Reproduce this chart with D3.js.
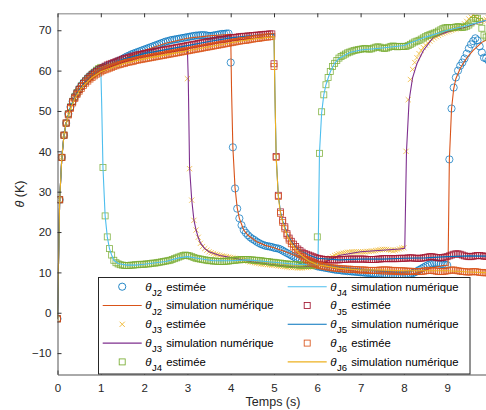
<!DOCTYPE html>
<html><head><meta charset="utf-8">
<script src="https://cdn.jsdelivr.net/npm/d3@7"></script>
<style>body{margin:0;background:#fff}svg{display:block;font-family:"Liberation Sans",Arial,Helvetica,sans-serif}</style>
</head><body><svg id="c" width="486" height="410"></svg>
<script>
// ---- data (time grid of the estimates: 0, 0.05, ... 9.95 s) ----
const xTicks = [0,1,2,3,4,5,6,7,8,9];
const yTicks = [-10,0,10,20,30,40,50,60,70];

const J2est = [
-1.5,28,38.5,44,47,49.3,51,52.4,53.6,54.6,55.5,56.3,57,57.6,58.2,58.7,59.2,59.6,60,60.3,
60.5,60.8,61,61.2,61.4,61.6,61.8,62.1,62.4,62.6,62.9,63.2,63.5,63.7,64,64.2,64.4,64.6,64.8,65,
65.2,65.4,65.6,65.8,66,66.2,66.4,66.6,66.8,67,67.2,67.3,67.5,67.6,67.7,67.8,67.9,68,68.1,68.2,
68.3,68.4,68.5,68.6,68.7,68.7,68.8,68.8,68.8,68.7,68.6,68.6,68.7,68.8,68.9,69,69.1,69.1,69.2,69.2,
62,41,30.8,25.8,23.4,21.7,20.5,19.8,19.2,18.7,18.3,18,17.6,17.3,17,16.8,16.6,16.5,16.4,16.3,
16.1,16,15.9,15.7,15.4,15.1,14.8,14.5,14.2,13.9,13.6,13.3,13.1,12.9,12.7,12.5,12.3,12.1,11.9,11.7,
11.5,11.4,11.3,11.2,11.1,11,10.9,10.8,10.7,10.6,10.6,10.5,10.4,10.4,10.3,10.3,10.2,10.2,10.1,10.1,
10,10,9.9,9.9,9.8,9.8,9.7,9.7,9.6,9.6,9.5,9.5,9.4,9.4,9.4,9.3,9.3,9.3,9.3,9.3,
9.3,9.4,9.5,9.6,9.8,10,10.3,10.6,10.9,11.2,11.5,11.8,12,12.2,12.3,12.3,12.2,12.1,12,11.9,
11.8,38,50.6,55.8,58.3,60,61.2,62,63,64.2,65.5,66.5,67.3,68,67.5,66,64.5,63.2,63,62.5];

const J3est = [
-1.5,28,38.5,44,47,49.2,50.8,52.2,53.3,54.3,55.1,55.8,56.5,57.1,57.6,58.1,58.6,59,59.4,59.7,
60,60.3,60.5,60.8,61,61.2,61.4,61.6,61.8,62,62.2,62.4,62.5,62.7,62.8,63,63.1,63.3,63.4,63.5,
63.6,63.7,63.8,63.9,64,64.1,64.2,64.3,64.4,64.5,64.6,64.7,64.7,64.8,64.9,65,65,65.1,65.2,65.2,
58,35.7,27.9,22.9,20.5,18.7,17.2,16.4,15.9,15.5,15.1,14.9,14.7,14.5,14.4,14.2,14.1,14,13.9,13.8,
13.7,13.6,13.5,13.4,13.3,13.2,13,12.9,12.8,12.6,12.5,12.4,12.3,12.2,12.1,12,12,11.9,11.9,11.8,
11.8,11.7,11.6,11.5,11.5,11.4,11.3,11.3,11.2,11.2,11.2,11.1,11.1,11.1,11.2,11.2,11.3,11.3,11.4,11.5,
11.6,11.8,12.1,12.4,12.8,13.2,13.6,13.9,14.2,14.4,14.6,14.7,14.8,14.9,15,15,15.1,15.1,15.1,15.1,
15.1,15.1,15.1,15.2,15.2,15.3,15.3,15.4,15.5,15.6,15.7,15.7,15.7,15.6,15.5,15.4,15.5,15.6,15.8,16,
16.1,40,52.8,57.8,60.3,62,63.2,64.2,65,65.7,66.3,66.8,67.3,67.7,68.1,68.4,68.7,69,69.2,69.4,
69.6,69.8,70,70.2,70.3,70.4,70.6,71,71.6,72.2,72.8,73.3,73.7,73.5,73,72.5,72.2,72.4,72.7,73];

const J4est = [
-1.5,28,38.5,44,47,49.3,51,52.4,53.5,54.5,55.4,56.2,56.9,57.5,58.1,58.6,59.1,59.6,60.1,60.5,
60.8,36,24,18.8,15.9,14.3,13,12.4,12.1,11.9,11.8,11.7,11.7,11.7,11.8,11.8,11.9,11.9,12,12,
12,12.1,12.1,12.2,12.3,12.3,12.4,12.5,12.6,12.7,12.8,12.9,13,13.2,13.4,13.6,13.8,14,14.2,14.3,
14.2,14.1,13.9,13.7,13.5,13.4,13.3,13.2,13.1,13,12.9,12.9,12.8,12.8,12.7,12.7,12.7,12.7,12.8,12.8,
12.9,13,13,13.1,13.1,13.2,13.2,13.2,13.2,13.1,13.1,13,13,12.9,12.9,12.8,12.7,12.7,12.6,12.5,
12.5,12.4,12.3,12.3,12.2,12.1,12.1,12,12,11.9,11.9,11.9,11.8,11.8,11.8,11.8,11.8,11.8,11.8,11.9,
18.8,39.5,49.8,54,56.5,58.3,59.8,61,61.8,62.5,63.1,63.5,63.8,64.1,64.4,64.6,64.8,65,65.1,65.2,
65.3,65.4,65.5,65.4,65.3,65.4,65.6,65.8,65.9,65.8,65.6,65.5,65.6,65.8,66,66.1,66,65.9,66,66,
66,66,66.2,66.5,66.8,67.1,67.3,67.5,67.8,68.1,68.4,68.7,68.9,69.1,69.3,69.5,69.8,70.1,70.4,70.6,
70.7,70.6,70.6,70.7,70.8,70.9,70.8,70.7,70.8,71,71.3,71.8,72.4,72.9,73,72.2,70.5,68.8,68.3,68.5];

const J5est = [
-1.5,28,38.5,44,47,49.2,50.9,52.3,53.4,54.4,55.3,56.1,56.8,57.4,58,58.5,59,59.4,59.8,60.2,
60.5,60.8,61.1,61.4,61.6,61.8,62,62.2,62.4,62.6,62.8,63,63.1,63.3,63.4,63.6,63.7,63.9,64,64.1,
64.2,64.3,64.4,64.5,64.6,64.7,64.8,64.9,65,65.1,65.2,65.3,65.4,65.5,65.6,65.7,65.8,65.9,66,66.1,
66.2,66.3,66.4,66.5,66.6,66.7,66.8,66.9,67,67.1,67.2,67.3,67.4,67.5,67.6,67.7,67.7,67.8,67.9,68,
68.1,68.2,68.2,68.3,68.4,68.4,68.5,68.5,68.6,68.6,68.7,68.7,68.8,68.8,68.9,68.9,69,69,69.1,69.1,
61.7,38.7,29.1,25,22.9,21.3,19.6,18.5,17.7,17,16.4,15.8,15.4,15,14.7,14.5,14.3,14.1,13.9,13.7,
13.5,13.4,13.3,13.2,13.2,13.1,13.1,13.1,13.1,13.1,13.1,13.2,13.2,13.2,13.3,13.3,13.3,13.3,13.3,13.3,
13.3,13.3,13.3,13.2,13.2,13.2,13.2,13.2,13.3,13.3,13.4,13.4,13.4,13.4,13.4,13.4,13.4,13.4,13.5,13.5,
13.5,13.5,13.6,13.6,13.6,13.5,13.5,13.5,13.5,13.6,13.7,13.8,13.9,13.9,13.8,13.7,13.6,13.6,13.7,13.8,
13.9,14.1,14.3,14.5,14.6,14.6,14.5,14.3,14.1,14,13.9,13.9,14,14.1,14.2,14.2,14.1,14,14,14];

const J6est = [
-1.5,28,38.5,44,47,49,50.6,52,53.1,54.1,54.9,55.6,56.3,56.9,57.4,57.9,58.3,58.7,59.1,59.4,
59.7,60,60.2,60.4,60.6,60.8,61,61.2,61.4,61.5,61.7,61.8,62,62.1,62.2,62.3,62.5,62.6,62.7,62.8,
62.9,63,63.1,63.2,63.3,63.4,63.5,63.6,63.7,63.8,63.9,64,64.1,64.2,64.3,64.4,64.5,64.6,64.7,64.8,
64.9,65,65.1,65.2,65.3,65.4,65.5,65.6,65.7,65.8,65.9,66,66.1,66.2,66.3,66.4,66.5,66.6,66.7,66.8,
66.9,67,67.1,67.2,67.3,67.4,67.5,67.5,67.6,67.7,67.8,67.9,68,68,68.1,68.2,68.3,68.3,68.4,68.5,
61,38.5,28.8,24.6,22.4,20.8,19.2,18,17.1,16.3,15.6,15,14.5,14,13.6,13.2,12.9,12.6,12.3,12.1,
11.9,11.7,11.6,11.5,11.4,11.3,11.2,11.1,11.1,11,11,10.9,10.9,10.8,10.8,10.8,10.7,10.7,10.7,10.6,
10.6,10.6,10.6,10.5,10.5,10.5,10.5,10.5,10.5,10.6,10.6,10.6,10.6,10.6,10.5,10.5,10.5,10.4,10.4,10.4,
10.4,10.3,10.3,10.3,10.2,10.2,10.2,10.2,10.2,10.3,10.4,10.5,10.5,10.5,10.4,10.3,10.2,10.2,10.2,10.3,
10.4,10.5,10.6,10.6,10.5,10.4,10.3,10.2,10.2,10.1,10.1,10.1,10.2,10.2,10.1,10,10,9.9,9.9,9.9];

// simulation curves: [time (s), theta (K)]
const J2sim = [[0,-1.5],[0.05,28],[0.1,38.5],[0.15,44],[0.2,47],[0.3,50.8],[0.4,53.3],[0.5,55.3],[0.6,56.8],[0.8,59],[1,60.5],[1.5,62.8],[2,65],[2.5,66.8],[3,68],[3.5,68.6],[4,69],[4.02,55],[4.05,41],[4.1,31],[4.15,26],[4.2,23.4],[4.3,20.5],[4.4,19.2],[4.6,17.6],[4.8,16.7],[5,16.1],[5.3,15],[5.6,13.6],[6,11.8],[6.5,10.8],[7,10.1],[7.5,9.6],[8,9.4],[8.3,9.8],[8.6,11],[8.9,11.7],[9.02,11.8],[9.05,38],[9.1,50.5],[9.15,55.5],[9.2,58],[9.3,60.5],[9.4,62.3],[9.5,63.8],[9.6,65],[9.7,66],[9.8,67],[9.9,67.6],[10,68]];
const J3sim = [[0,-1.5],[0.05,28],[0.1,38.5],[0.15,44],[0.2,47],[0.3,50.8],[0.4,53.3],[0.5,55.1],[0.6,56.5],[0.8,58.6],[1,60],[1.5,62],[2,63.6],[2.5,64.5],[3,65.2],[3.02,58],[3.05,36],[3.1,28],[3.15,23],[3.2,20.5],[3.25,18.7],[3.3,17.3],[3.4,15.9],[3.5,15.1],[3.75,14.2],[4,13.7],[4.5,12.6],[5,11.9],[5.5,11.3],[6,11.6],[6.5,14.2],[7,15.1],[7.5,15.5],[7.9,15.8],[8.02,16],[8.06,40],[8.12,52.6],[8.2,58.2],[8.3,61.7],[8.45,65],[8.68,68.3],[9,69.6],[9.45,70.8],[9.7,71.8],[10,72.8]];
const J4sim = [[0,-1.5],[0.05,28],[0.1,38.5],[0.15,44],[0.2,47],[0.3,51],[0.4,53.5],[0.5,55.4],[0.6,56.9],[0.8,59.1],[1,60.5],[1.02,52],[1.05,36],[1.1,24],[1.15,18.8],[1.2,15.9],[1.25,14.3],[1.3,13],[1.4,12.2],[1.6,11.8],[1.8,11.8],[2,12],[2.5,12.7],[2.8,13.6],[3,13.9],[3.3,13.4],[3.6,12.9],[4,12.9],[4.4,13.1],[5,12.5],[5.5,12],[6,11.9],[6.02,15],[6.05,39.5],[6.1,49.5],[6.15,54],[6.2,56.5],[6.3,59.7],[6.4,61.8],[6.5,63],[6.75,64.5],[7,65.1],[7.5,65.6],[8,66.2],[8.5,68.3],[9,70],[9.5,71.3],[9.9,72.5],[10,72.8]];
const J5sim = [[0,-1.5],[0.05,28],[0.1,38.5],[0.15,44],[0.2,47],[0.3,50.9],[0.4,53.4],[0.5,55.3],[0.6,56.8],[0.8,59],[1,60.5],[1.5,62.8],[2,64.2],[2.5,65.2],[3,66.2],[3.5,67.2],[4,68.1],[4.5,68.7],[5,69.1],[5.02,55],[5.05,38.7],[5.1,29],[5.15,25],[5.2,22.8],[5.3,19.6],[5.4,17.7],[5.5,16.4],[5.6,15.4],[5.8,14.3],[6,13.5],[6.5,13.1],[7,13.3],[7.5,13.3],[8,13.5],[8.5,13.6],[9,13.9],[9.5,14.1],[10,14]];
const J6sim = [[0,-1.5],[0.05,28],[0.1,38.5],[0.15,44],[0.2,47],[0.3,50.6],[0.4,53.1],[0.5,54.9],[0.6,56.3],[0.8,58.3],[1,59.7],[1.5,61.7],[2,62.9],[2.5,63.9],[3,64.9],[3.5,65.9],[4,66.9],[4.5,67.8],[5,68.4],[5.02,55],[5.05,38.5],[5.1,28.8],[5.15,24.6],[5.2,22.4],[5.3,19.2],[5.4,17.1],[5.5,15.6],[5.6,14.5],[5.8,12.9],[6,11.9],[6.5,11],[7,10.6],[7.5,10.6],[8,10.4],[8.5,10.4],[9,10.4],[9.5,10.1],[10,9.9]];

const time = J2est.map((_, i) => i * 0.05);

const C = {c1:"#0072BD",c2:"#D95319",c3:"#EDB120",c4:"#7E2F8E",c5:"#77AC30",c6:"#4DBEEE",c7:"#A2142F"};
const series = [
  {kind:"est", vals:J2est, mark:"o", color:C.c1, sub:"J2", text:"estimée"},
  {kind:"sim", vals:J2sim, color:C.c2, sub:"J2", text:"simulation numérique"},
  {kind:"est", vals:J3est, mark:"x", color:C.c3, sub:"J3", text:"estimée"},
  {kind:"sim", vals:J3sim, color:C.c4, sub:"J3", text:"simulation numérique"},
  {kind:"est", vals:J4est, mark:"s", color:C.c5, sub:"J4", text:"estimée"},
  {kind:"sim", vals:J4sim, color:C.c6, sub:"J4", text:"simulation numérique"},
  {kind:"est", vals:J5est, mark:"s", color:C.c7, sub:"J5", text:"estimée"},
  {kind:"sim", vals:J5sim, color:C.c1, sub:"J5", text:"simulation numérique"},
  {kind:"est", vals:J6est, mark:"s", color:C.c2, sub:"J6", text:"estimée"},
  {kind:"sim", vals:J6sim, color:C.c3, sub:"J6", text:"simulation numérique"}
];

// ---- scales ----
const L = 57.5, R = 490.5, T = 13.3, B = 374.5;
const x = d3.scaleLinear().domain([0,10]).range([L,R]);
const y = d3.scaleLinear().domain([-15.3,74.2]).range([B,T]);

const svg = d3.select("#c");
svg.append("defs").append("clipPath").attr("id","clip")
  .append("rect").attr("x",L).attr("y",T).attr("width",R-L).attr("height",B-T);

const plot = svg.append("g").attr("clip-path","url(#clip)");
const line = d3.line().x(d=>x(d[0])).y(d=>y(d[1]));
const MW = 0.85, MO = 0.85;

function drawMarks(g, pts, mark, color){
  if (mark === "o") {
    g.selectAll("circle").data(pts).join("circle")
      .attr("cx",d=>x(d.t)).attr("cy",d=>y(d.v)).attr("r",3.6)
      .attr("fill","none").attr("stroke",color).attr("stroke-width",MW).attr("stroke-opacity",MO);
  } else if (mark === "s") {
    g.selectAll("rect").data(pts).join("rect")
      .attr("x",d=>x(d.t)-3).attr("y",d=>y(d.v)-3).attr("width",6).attr("height",6)
      .attr("fill","none").attr("stroke",color).attr("stroke-width",MW).attr("stroke-opacity",MO);
  } else {
    g.selectAll("path").data(pts).join("path")
      .attr("d",d=>{const cx=x(d.t), cy=y(d.v), a=2.6;
        return `M${cx-a},${cy-a}L${cx+a},${cy+a}M${cx-a},${cy+a}L${cx+a},${cy-a}`;})
      .attr("fill","none").attr("stroke",color).attr("stroke-width",MW).attr("stroke-opacity",MO);
  }
}

series.forEach(s=>{
  const g = plot.append("g");
  if (s.kind === "est") {
    drawMarks(g, s.vals.map((v,i)=>({t:time[i], v})), s.mark, s.color);
  } else {
    g.append("path").datum(s.vals).attr("d",line)
      .attr("fill","none").attr("stroke",s.color).attr("stroke-width",1.1);
  }
});

// ---- axes ----
const axColor = "#262626";
const gx = svg.append("g").attr("transform",`translate(0,${B})`)
  .call(d3.axisBottom(x).tickValues(xTicks).tickFormat(d3.format("d")).tickSize(-4).tickSizeOuter(0).tickPadding(9));
const gt = svg.append("g").attr("transform",`translate(0,${T})`)
  .call(d3.axisTop(x).tickValues(xTicks).tickFormat("").tickSize(-4).tickSizeOuter(0));
const gy = svg.append("g").attr("transform",`translate(${L},0)`)
  .call(d3.axisLeft(y).tickValues(yTicks).tickFormat(d3.format("d")).tickSize(-4).tickSizeOuter(0).tickPadding(6));
[gx,gy].forEach(g=>{
  g.select(".domain").attr("stroke","#555").attr("stroke-width",1);
  g.selectAll(".tick line").attr("stroke","#333");
  g.selectAll(".tick text").attr("fill",axColor).attr("font-size",11.5).attr("font-family","Liberation Sans, Arial, sans-serif");
});
gt.select(".domain").attr("stroke","#aaa").attr("stroke-width",1.5);
gt.selectAll(".tick line").attr("stroke","#333");

// axis labels
svg.append("text").attr("x",273).attr("y",406).attr("text-anchor","middle")
  .attr("font-size",12.5).attr("fill",axColor).text("Temps (s)");
const yl = svg.append("text").attr("transform","translate(24,194) rotate(-90)")
  .attr("text-anchor","middle").attr("font-size",12.5).attr("fill",axColor);
yl.append("tspan").attr("font-style","italic").text("θ");
yl.append("tspan").text(" (K)");

// ---- legend ----
const lg = svg.append("g");
lg.append("rect").attr("x",98.5).attr("y",277.5).attr("width",371.5).attr("height",96.5)
  .attr("fill","#fff").attr("stroke","#262626").attr("stroke-width",1);
const rowY = [286.7,305.5,324.3,343.1,361.9];
const colX = [102.7,287.7];
series.forEach((s,i)=>{
  const col = Math.floor(i/5), row = i%5;
  const x0 = colX[col], cy = rowY[row];
  const g = lg.append("g");
  if (s.kind === "sim") {
    g.append("line").attr("x1",x0).attr("x2",x0+39).attr("y1",cy).attr("y2",cy)
      .attr("stroke",s.color).attr("stroke-width",1.1);
  } else {
    const gm = g.append("g");
    if (s.mark === "o") gm.append("circle").attr("cx",x0+19.5).attr("cy",cy).attr("r",3.6)
      .attr("fill","none").attr("stroke",s.color).attr("stroke-width",MW);
    else if (s.mark === "s") gm.append("rect").attr("x",x0+16.5).attr("y",cy-3).attr("width",6).attr("height",6)
      .attr("fill","none").attr("stroke",s.color).attr("stroke-width",MW);
    else { const cx=x0+19.5,a=2.6; gm.append("path")
      .attr("d",`M${cx-a},${cy-a}L${cx+a},${cy+a}M${cx-a},${cy+a}L${cx+a},${cy-a}`)
      .attr("stroke",s.color).attr("stroke-width",MW); }
  }
  g.append("text").attr("x",x0+42.5).attr("y",cy+3.8).attr("font-size",11.5)
    .attr("font-style","italic").attr("fill","#000").text("θ");
  g.append("text").attr("x",x0+49.3).attr("y",cy+9).attr("font-size",9.5)
    .attr("fill","#000").text(s.sub);
  g.append("text").attr("x",x0+63.5).attr("y",cy+3.8).attr("font-size",11.3)
    .attr("fill","#000").text(s.text);
});
</script>
</body></html>
